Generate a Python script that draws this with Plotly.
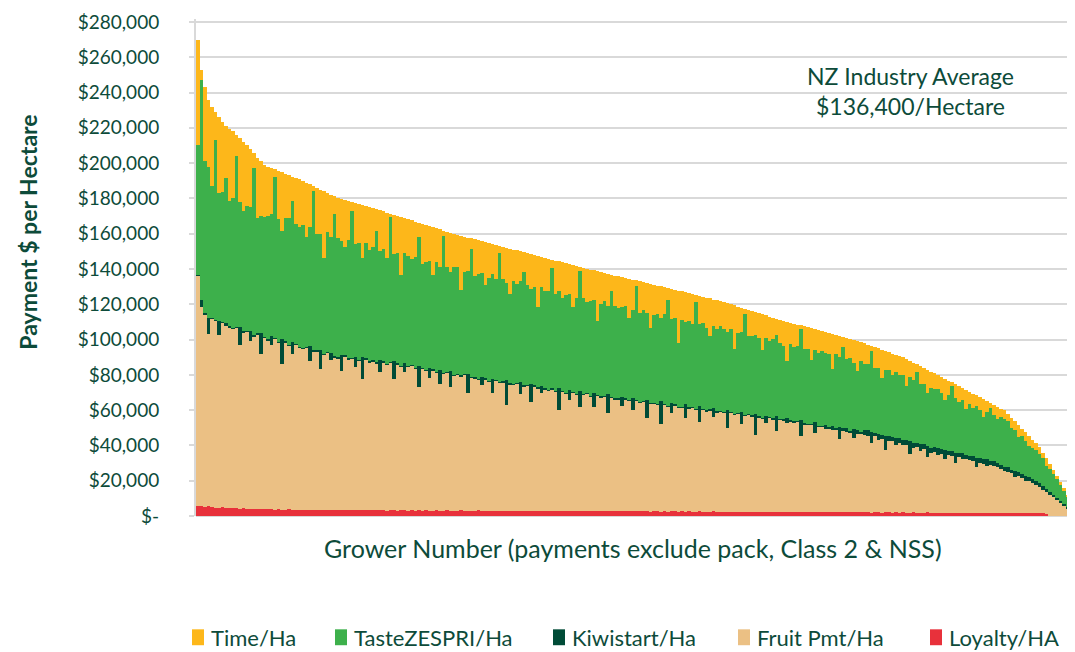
import numpy as np
import plotly.graph_objects as go

# $000 per hectare, one entry per grower, growers sorted by total payment
total_k = [
    270, 253, 243, 236, 232, 229, 226.3, 223.5, 221.3, 219.5,
    218, 216, 214, 212, 210.5, 208, 205.5, 203, 201, 199.2,
    198, 197.2, 196.4, 195.6, 194.8, 193.8, 193, 192.3, 191.6, 190.8,
    189.8, 188.9, 188, 187, 186, 185, 184.1, 183.2, 182.2, 181.3,
    180.4, 179.8, 179.2, 178.6, 178, 177.4, 176.8, 176.2, 175.6, 175,
    174.4, 173.8, 173.2, 172.6, 172, 171.4, 170.7, 170.1, 169.4, 168.8,
    168.2, 167.5, 166.9, 166.2, 165.6, 165, 164.3, 163.7, 163, 162.4,
    161.8, 161.1, 160.5, 159.9, 159.4, 158.9, 158.3, 157.8, 157.3, 156.8,
    156.3, 155.7, 155.2, 154.7, 154.2, 153.6, 153.1, 152.6, 152.1, 151.6,
    151, 150.5, 150, 149.5, 149, 148.4, 147.9, 147.4, 146.9, 146.4,
    145.8, 145.3, 144.8, 144.3, 143.8, 143.2, 142.7, 142.2, 141.7, 141.1,
    140.6, 140.1, 139.6, 139.2, 138.7, 138.2, 137.7, 137.3, 136.8, 136.3,
    135.8, 135.4, 134.9, 134.4, 133.9, 133.5, 133, 132.5, 132, 131.6,
    131.1, 130.6, 130.1, 129.7, 129.2, 128.7, 128.2, 127.8, 127.3, 126.8,
    126.3, 125.9, 125.4, 124.9, 124.4, 123.8, 123.3, 122.7, 122.2, 121.6,
    121.1, 120.5, 120, 119.4, 118.7, 118.1, 117.5, 116.8, 116.2, 115.6,
    114.9, 114.3, 113.7, 113, 112.4, 111.8, 111.1, 110.6, 110.1, 109.6,
    109, 108.5, 108, 107.5, 106.9, 106.4, 105.9, 105.4, 104.8, 104.3,
    103.8, 103.2, 102.7, 102.2, 101.6, 101.1, 100.5, 100, 99.3, 98.6,
    97.9, 97.2, 96.5, 95.8, 95.1, 94.3, 93.6, 92.9, 92.1, 91.4,
    90.7, 89.9, 88.9, 87.9, 86.9, 85.9, 84.8, 83.8, 82.8, 81.8,
    80.8, 79.8, 78.9, 77.9, 76.8, 75.7, 74.7, 73.6, 72.6, 71.5,
    70.4, 69.3, 68.3, 67.2, 66.2, 65.1, 64, 63, 61.9, 60.9,
    59.8, 57.8, 55.7, 53.7, 51.6, 49.5, 47.5, 45.4, 43.3, 41.3,
    39.2, 35.9, 32.6, 29.4, 26.1, 22.8, 19.5, 15.6, 11.9, 7.5,
]

time_k = [
    60, 6, 42, 38, 45, 16, 43, 40, 30, 41,
    38, 12, 36, 39, 35, 33, 8, 34, 31, 30,
    28, 26, 4, 27, 33, 25, 24, 14, 26, 27,
    25, 31, 24, 3, 26, 25, 38, 22, 24, 10,
    23, 24, 27, 22, 5, 23, 22, 30, 21, 24,
    22, 12, 23, 21, 26, 2, 22, 21, 33, 20,
    21, 22, 20, 8, 23, 21, 20, 27, 19, 21,
    3, 20, 22, 19, 18, 31, 20, 19, 6, 21,
    19, 18, 24, 20, 17, 19, 4, 18, 20, 26,
    18, 19, 17, 11, 18, 20, 18, 29, 17, 19,
    18, 5, 19, 17, 20, 18, 17, 24, 18, 2,
    17, 19, 18, 17, 28, 18, 16, 18, 9, 17,
    18, 17, 16, 22, 17, 3, 18, 16, 17, 25,
    17, 16, 18, 15, 7, 17, 16, 30, 16, 17,
    16, 17, 4, 16, 15, 17, 21, 15, 16, 14,
    15, 16, 14, 25, 15, 14, 3, 15, 14, 13,
    14, 20, 13, 14, 12, 9, 13, 14, 22, 12,
    13, 12, 2, 13, 12, 18, 12, 13, 11, 12,
    12, 20, 11, 12, 6, 12, 11, 13, 17, 11,
    12, 11, 3, 12, 11, 16, 11, 10, 12, 10,
    11, 10, 15, 9, 10, 4, 10, 9, 13, 9,
    9, 8, 9, 12, 8, 2, 8, 9, 7, 11,
    7, 8, 6, 7, 10, 6, 3, 6, 7, 5,
    5, 4, 6, 5, 7, 4, 5, 6, 5, 4,
    4, 3, 4, 3, 2.5, 2, 2, 1.5, 1, 0.5,
]

kiwistart_k = [
    0.5, 4, 0.6, 9, 0.4, 0.5, 8, 0.5, 2, 0.6,
    0.5, 0.4, 10, 0.7, 0.5, 6, 0.5, 0.6, 12, 0.6,
    0.5, 5, 0.5, 0.4, 14, 0.6, 0.5, 7, 0.5, 0.4,
    0.6, 0.4, 8, 0.5, 0.5, 11, 0.4, 0.6, 4, 0.5,
    0.5, 9, 0.5, 0.6, 0.4, 6, 0.5, 13, 0.6, 0.5,
    0.4, 0.5, 7, 0.5, 0.6, 0.4, 10, 0.5, 0.5, 5,
    0.6, 0.5, 0.5, 12, 0.4, 0.6, 6, 0.5, 0.5, 8,
    0.5, 0.5, 9, 0.4, 0.6, 0.5, 0.5, 11, 0.4, 0.6,
    0.5, 5, 0.5, 0.6, 8, 0.4, 0.5, 0.5, 14, 0.6,
    0.5, 0.6, 7, 0.5, 0.4, 10, 0.6, 0.5, 4, 0.5,
    0.6, 0.5, 0.5, 12, 0.4, 0.6, 6, 0.5, 0.5, 9,
    0.5, 0.5, 0.4, 8, 0.6, 0.5, 0.5, 11, 0.4, 0.6,
    0.5, 5, 0.5, 0.6, 7, 0.4, 0.5, 0.5, 10, 0.6,
    0.5, 0.5, 13, 0.4, 0.6, 6, 0.5, 0.5, 0.4, 8,
    0.6, 0.5, 0.5, 9, 0.4, 0.6, 0.5, 5, 0.5, 0.4,
    0.5, 10, 0.5, 0.6, 0.4, 7, 0.5, 0.5, 0.6, 12,
    0.5, 0.5, 4, 0.4, 0.6, 8, 0.5, 0.5, 3, 0.6,
    0.5, 0.4, 9, 0.6, 0.5, 0.5, 6, 0.4, 0.6, 2.5,
    1.0, 2.5, 0.8, 7, 1.0, 2.2, 0.9, 5, 2.6, 1.0,
    2.5, 3, 6, 2.2, 3.5, 2.5, 8, 2.8, 2.4, 4,
    2.6, 3.2, 2.4, 7, 3, 2.5, 4, 2.7, 6, 3,
    2.5, 3.5, 2.8, 5, 2.4, 3, 6, 2.6, 3.2, 2.5,
    2.4, 3, 5, 2.6, 2.8, 4, 2.5, 3, 2.6, 2.4,
    2.2, 2.6, 2.0, 3.5, 2.2, 2.4, 3, 2.0, 2.5, 2.1,
    2.0, 2.2, 1.8, 1.6, 1.5, 1.4, 1.2, 1.0, 0.8, 0.5,
]

fruit_k = [
    130.5, 113, 109, 98, 107, 106, 98, 104.5, 103, 102.5,
    101.5, 102.5, 93, 99.5, 100.5, 95, 98, 99, 88, 97,
    96, 93, 97, 94.5, 82.5, 95, 93, 88, 93.5, 92,
    91.5, 92, 84.5, 90, 90, 80, 88, 89, 85, 86.5,
    86, 79, 87, 85.5, 86, 81, 85, 74, 85.5, 84,
    84.5, 83.5, 78, 84, 82.5, 83.5, 74.5, 83, 81.5, 78.5,
    81.5, 82, 80.5, 70, 80.5, 79, 75, 79.5, 78, 72,
    77.5, 78, 70, 76.5, 77, 76, 77, 66.5, 75.5, 75,
    74, 71, 74.5, 73, 67, 73.5, 72.5, 73, 60, 71.5,
    71.5, 72, 66, 70.5, 71, 62, 70.5, 69.5, 67, 69,
    68, 69, 67.5, 57.5, 67.5, 66.5, 63, 67, 66, 59,
    66, 66.5, 65, 59, 65.5, 64.5, 65, 55.5, 64.5, 63.5,
    63.5, 60, 63.5, 62.5, 57.5, 62.5, 61.5, 62, 53, 61,
    61, 60.5, 49.5, 60.5, 59.5, 55.5, 60, 59, 59, 53,
    58.5, 59, 58, 50.5, 58, 57, 57.5, 53.5, 56.5, 56.5,
    56, 47.5, 56, 55, 55.5, 49.5, 54.5, 55, 54, 43.5,
    53.5, 53, 50.5, 53.5, 52.5, 46, 52.5, 52, 50.5, 51.5,
    51, 51, 43, 50, 49.5, 49.5, 45, 48.5, 48.5, 47,
    47.5, 46.5, 47, 41.5, 46.5, 45.5, 45.5, 42, 44, 44.5,
    44, 43.5, 39.5, 43, 41, 41.5, 35.5, 40.5, 40.5, 38,
    39.5, 38, 38.5, 33.5, 36.5, 37, 35, 36, 31.5, 34,
    34.5, 33, 33.5, 30.5, 33, 32, 28, 31.5, 30.5, 30.5,
    30, 29.5, 26, 28.5, 28, 26.5, 27, 26.5, 26, 25,
    24, 23.5, 22.5, 20.5, 21, 20, 18, 18.5, 17, 16,
    15, 13.5, 12, 12, 10.5, 9, 7.5, 6, 4.5, 3,
]

loyalty_k = [
    5.8, 5.5, 5.2, 5.4, 5.0, 4.8, 4.6, 4.9, 4.5, 4.4,
    4.6, 4.3, 4.2, 4.4, 4.1, 4.0, 3.9, 4.1, 3.8, 3.9,
    3.7, 3.8, 3.6, 3.9, 3.6, 3.5, 3.7, 3.6, 3.5, 3.6,
    3.4, 3.5, 3.6, 3.4, 3.5, 3.3, 3.5, 3.4, 3.3, 3.5,
    3.4, 3.3, 3.5, 3.2, 3.4, 3.3, 3.2, 3.4, 3.3, 3.2,
    3.3, 3.2, 3.4, 3.2, 3.1, 3.3, 3.2, 3.1, 3.2, 3.3,
    3.1, 3.2, 3.1, 3.3, 3.1, 3.2, 3.0, 3.1, 3.2, 3.0,
    3.1, 3.2, 3.0, 3.1, 3.0, 3.2, 3.1, 3.0, 3.1, 3.0,
    3.2, 3.0, 3.1, 3.0, 2.9, 3.1, 3.0, 2.9, 3.0, 3.1,
    2.9, 3.0, 2.9, 3.0, 2.9, 2.8, 3.0, 2.9, 2.8, 2.9,
    3.0, 2.8, 2.9, 2.8, 2.9, 2.8, 2.7, 2.9, 2.8, 2.7,
    2.8, 2.7, 2.8, 2.9, 2.7, 2.8, 2.7, 2.6, 2.8, 2.7,
    2.7, 2.6, 2.8, 2.7, 2.6, 2.7, 2.6, 2.7, 2.6, 2.5,
    2.6, 2.7, 2.5, 2.6, 2.5, 2.6, 2.8, 2.5, 2.6, 2.5,
    2.6, 2.5, 2.4, 2.6, 2.5, 2.4, 2.5, 2.6, 2.4, 2.5,
    2.4, 2.5, 2.4, 2.3, 2.5, 2.4, 2.3, 2.4, 2.5, 2.3,
    2.4, 2.3, 2.4, 2.2, 2.3, 2.4, 2.2, 2.3, 2.2, 2.3,
    2.2, 2.3, 2.2, 2.1, 2.4, 2.2, 2.1, 2.2, 2.1, 2.2,
    2.1, 2.2, 2.1, 2.0, 2.2, 2.1, 2.0, 2.1, 2.2, 2.0,
    2.1, 2.0, 1.9, 2.1, 2.0, 1.9, 2.0, 2.1, 1.9, 2.0,
    1.9, 2.0, 1.9, 1.8, 2.0, 1.9, 1.8, 1.9, 2.0, 1.8,
    1.9, 1.8, 1.9, 1.8, 1.7, 1.9, 1.8, 1.7, 1.8, 1.7,
    1.8, 1.7, 1.8, 1.7, 1.6, 1.7, 1.8, 1.6, 1.7, 1.6,
    1.7, 1.6, 1.7, 1.6, 1.5, 1.6, 1.7, 1.5, 1.6, 1.5,
    1.6, 1.5, 1.4, 0, 0, 0, 0, 0, 0, 0,
]

y_tick_vals = [0, 20000, 40000, 60000, 80000, 100000, 120000, 140000,
               160000, 180000, 200000, 220000, 240000, 260000, 280000]
y_tick_text = ['$-', '$20,000', '$40,000', '$60,000', '$80,000', '$100,000',
               '$120,000', '$140,000', '$160,000', '$180,000', '$200,000',
               '$220,000', '$240,000', '$260,000', '$280,000']

series_names = ['Loyalty/HA', 'Fruit Pmt/Ha', 'Kiwistart/Ha', 'TasteZESPRI/Ha', 'Time/Ha']
series_colors = ['#E8313B', '#EBC084', '#004B37', '#3DB04B', '#FDB71A']

# taste payment is whatever is left of the grower's total
total = np.array(total_k) * 1000
time_ha = np.array(time_k) * 1000
kiwi = np.array(kiwistart_k) * 1000
fruit = np.array(fruit_k) * 1000
loyalty = np.array(loyalty_k) * 1000
taste = total - time_ha - kiwi - fruit - loyalty

growers = np.arange(1, len(total) + 1)
series_vals = [loyalty, fruit, kiwi, taste, time_ha]

TEXT = '#0D4B3A'
FONT = 'Lato'

# the page puts the figure 8px in from the corner, so size it for that
PAGE_OFF = 8
PLOT_LEFT, PLOT_RIGHT, PLOT_TOP, PLOT_BOTTOM = 196, 1073, 16, 516
Y_TOP_PX = 19          # where $280,000 sits
Y_MAX = 280000 * (PLOT_BOTTOM - PLOT_TOP) / (PLOT_BOTTOM - Y_TOP_PX)
W, H = 1075 - PAGE_OFF, 652 - PAGE_OFF
L = PLOT_LEFT - PAGE_OFF
T = PLOT_TOP - PAGE_OFF
R = W - (PLOT_RIGHT - PAGE_OFF)
B = H - (PLOT_BOTTOM - PAGE_OFF)
PW, PH = PLOT_RIGHT - PLOT_LEFT, PLOT_BOTTOM - PLOT_TOP


def px_x(p):
    return (p - PLOT_LEFT) / PW


def px_y(p):
    return (PLOT_BOTTOM - p) / PH


fig = go.Figure()
for name, vals, col in zip(series_names, series_vals, series_colors):
    fig.add_trace(go.Bar(x=growers, y=vals, name=name, marker_color=col,
                         marker_line_width=0, showlegend=False))

fig.update_layout(
    width=W, height=H,
    margin=dict(l=L, r=R, t=T, b=B),
    barmode='stack', bargap=0,
    plot_bgcolor='white', paper_bgcolor='white',
    font=dict(family=FONT, color=TEXT),
    xaxis=dict(range=[0.5, len(growers) + 0.5], showticklabels=False,
               showgrid=False, zeroline=False, ticks=''),
    yaxis=dict(range=[0, Y_MAX], tickvals=y_tick_vals, ticktext=y_tick_text,
               showgrid=True, gridcolor='#D9D9D9', gridwidth=2,
               zeroline=True, zerolinecolor='#D9D9D9', zerolinewidth=2,
               showline=True, linecolor='#D9D9D9', linewidth=2,
               ticks='outside', ticklen=5, tickcolor='#D9D9D9', tickwidth=2,
               ticklabelstandoff=26, ticklabeloverflow='allow',
               tickfont=dict(family=FONT, size=19, color=TEXT)),
)

fig.add_annotation(text='<b>Payment $ per Hectare</b>', textangle=-90,
                   x=px_x(28), y=px_y(231), xref='paper', yref='paper',
                   xanchor='center', yanchor='middle',
                   showarrow=False, font=dict(family=FONT, size=23, color=TEXT))

fig.add_annotation(text='Grower Number (payments exclude pack, Class 2 & NSS)',
                   x=px_x(633), y=px_y(548), xref='paper', yref='paper',
                   xanchor='center', yanchor='middle',
                   showarrow=False, font=dict(family=FONT, size=25, color=TEXT))

fig.add_annotation(text='NZ Industry Average<br>$136,400/Hectare',
                   x=px_x(910), y=px_y(88), xref='paper', yref='paper',
                   xanchor='center', yanchor='middle',
                   showarrow=False, align='center',
                   font=dict(family=FONT, size=23, color=TEXT))

# legend drawn by hand so the spacing follows the original
legend_order = ['Time/Ha', 'TasteZESPRI/Ha', 'Kiwistart/Ha', 'Fruit Pmt/Ha', 'Loyalty/HA']
legend_left = [192, 335, 553, 738, 930]
for name, left in zip(legend_order, legend_left):
    col = series_colors[series_names.index(name)]
    fig.add_shape(type='rect', xref='paper', yref='paper',
                  x0=px_x(left), x1=px_x(left + 12), y0=px_y(646), y1=px_y(630),
                  fillcolor=col, line_width=0)
    fig.add_annotation(text=name, x=px_x(left + 17), y=px_y(638),
                       xref='paper', yref='paper', xanchor='left', yanchor='middle',
                       showarrow=False, font=dict(family=FONT, size=22, color=TEXT))

fig.write_html('out.html')
